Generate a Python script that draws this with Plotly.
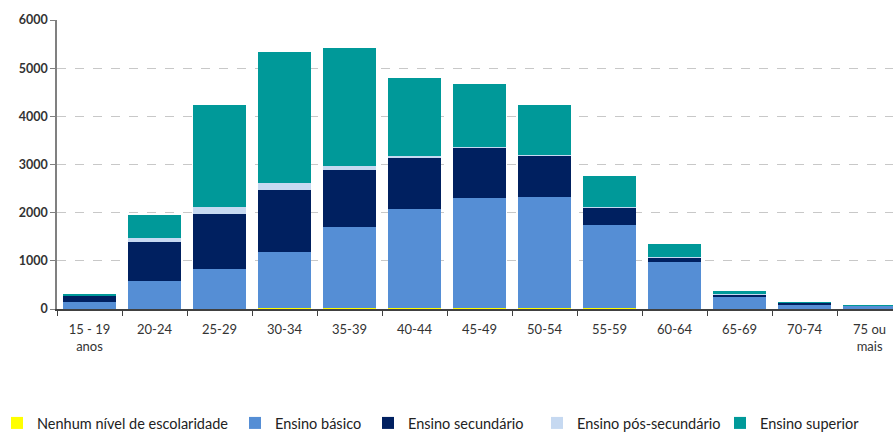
import plotly.graph_objects as go

categories = ["15 - 19<br>anos", "20-24", "25-29", "30-34", "35-39", "40-44", "45-49",
              "50-54", "55-59", "60-64", "65-69", "70-74", "75 ou<br>mais"]

nenhum = [3, 5, 10, 25, 25, 20, 20, 20, 20, 10, 5, 3, 2]
basico = [150, 583, 821, 1152, 1684, 2057, 2279, 2300, 1718, 966, 251, 87, 72]
secundario = [125, 803, 1142, 1294, 1178, 1073, 1045, 872, 366, 90, 44, 35, 6]
pos_secundario = [10, 90, 139, 140, 90, 28, 10, 8, 6, 4, 5, 3, 1]
superior = [17, 471, 2118, 2720, 2450, 1613, 1312, 1031, 646, 280, 62, 10, 2]

series = [
    ("Nenhum nível de escolaridade", nenhum, "#ffff00"),
    ("Ensino básico", basico, "#558ed5"),
    ("Ensino secundário", secundario, "#002060"),
    ("Ensino pós-secundário", pos_secundario, "#c6d9f1"),
    ("Ensino superior", superior, "#009999"),
]

# legend text start positions (page pixels)
legend_text_x = [39, 277, 410, 579, 762]

W, H = 893, 434
L, T = 57, 20
plot_bottom = 309
B = H - plot_bottom
plot_w = W - L
plot_h = plot_bottom - T

fig = go.Figure()
layout_legends = {}
for i, (name, vals, color) in enumerate(series):
    key = "legend" if i == 0 else f"legend{i + 1}"
    fig.add_trace(go.Bar(x=categories, y=vals, name=name, legend=key,
                         marker=dict(color=color, line=dict(width=0))))
    px = legend_text_x[i] - 42
    layout_legends[key] = dict(
        orientation="h", x=(px - L) / plot_w, xanchor="left",
        y=(plot_h - (423 - T)) / plot_h, yanchor="middle",
        font=dict(family="Lato", size=14.5, color="#222222"),
        itemwidth=30, bgcolor="rgba(0,0,0,0)", borderwidth=0,
    )

fig.update_layout(
    barmode="stack",
    bargap=0.18,
    width=W,
    height=H,
    margin=dict(l=L, r=0, t=T, b=B, autoexpand=False),
    paper_bgcolor="white",
    plot_bgcolor="white",
    font=dict(family="Lato", size=12, color="#333333"),
    showlegend=True,
    **layout_legends,
)
fig.update_xaxes(
    range=[-0.5, 12.36],
    showline=True, linecolor="#404040", linewidth=1.5,
    ticks="outside", tickson="boundaries", ticklen=5, tickcolor="#404040",
    tickfont=dict(size=13, color="#333333"),
    ticklabelstandoff=8,
    showgrid=False,
)
fig.update_yaxes(
    range=[0, 6000],
    dtick=1000,
    showline=True, linecolor="#808080", linewidth=1.5,
    ticks="outside", ticklen=5, tickcolor="#808080",
    showgrid=True, gridcolor="#c8c8c8", griddash="dash", gridwidth=1,
    tickfont=dict(size=12.5, color="#333333", weight="bold"),
    zeroline=False,
)

fig.write_html(
    "out.html",
    config={"displayModeBar": False},
    post_script="document.body.style.margin='0';document.body.style.overflow='hidden';",
)
